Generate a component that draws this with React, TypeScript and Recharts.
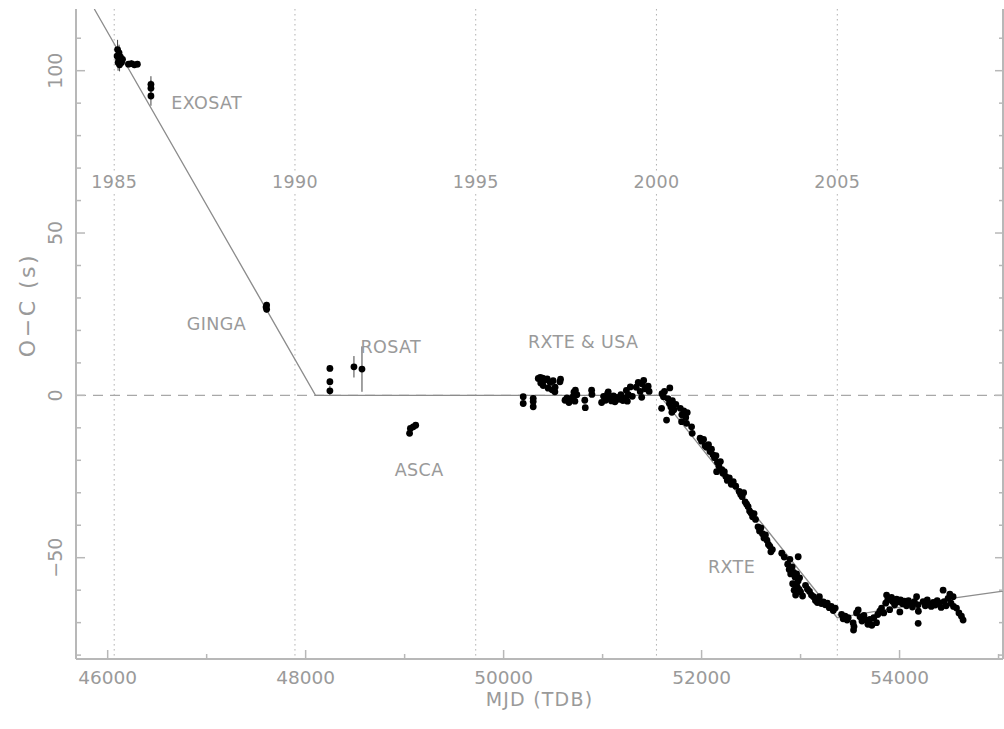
import React from 'react';
import { ComposedChart, Scatter, XAxis, YAxis, ReferenceLine, ErrorBar } from 'recharts';

// colours and fonts
const TEXT = '#9a9a9a';
const AXIS = '#b8b8b8';
const FONT = "'DejaVu Sans', sans-serif";

// axis ranges / ticks
const xDomain = [45680, 55045];
const yDomain = [-81.2, 119];
const xTicks = [46000, 47000, 48000, 49000, 50000, 51000, 52000, 53000, 54000, 55000];
const yTicks = [-80, -70, -60, -50, -40, -30, -20, -10, 0, 10, 20, 30, 40, 50, 60, 70, 80, 90, 100, 110];

// calendar years (Jan 1) marked by dotted lines
const yearMjd = [46066, 47892, 49718, 51544, 53371];
const yearText = ['1985', '1990', '1995', '2000', '2005'];
const yearLabelLevel = 65.6;

// mission labels
const missionText = ['EXOSAT', 'GINGA', 'ROSAT', 'ASCA', 'RXTE & USA', 'RXTE'];
const missionMjd = [47000, 47098, 48860, 49146, 50804, 52303];
const missionOC = [90.0, 21.9, 14.9, -23.1, 16.5, -53.0];

// piecewise linear fit
const fitMjd = [45865, 48100, 51575, 53370, 54560, 55045];
const fitOC = [119, 0, 0, -68.5, -62.4, -60.3];

// early timings: [MJD, O-C (s), error]
const exosat = [
  [46095, 104.5, 2.5], [46100, 106.5, 3], [46105, 102.5, 2.5], [46110, 103.8, 2.5], [46115, 105.5, 2.5],
  [46120, 101.8, 2], [46125, 103, 2], [46130, 104.2, 2], [46140, 102.5, 1.5], [46150, 103.5, 1.5],
  [46210, 102, 1], [46240, 102.2, 1], [46270, 101.8, 1], [46300, 102, 1],
  [46437, 95.8, 2.5], [46437, 94.6, 2.5], [46437, 92.2, 3],
];
const ginga = [[47600, 27.2, 1], [47606, 27.8, 1], [47606, 26.5, 1]];
const early = [[48245, 8.3, 1], [48245, 4.2, 1], [48245, 1.4, 1.5]];
const rosat = [[48488, 8.8, 3.3], [48569, 8.1, 7]];
const asca = [[49050, -11.7, 0.8], [49058, -10.2, 0.8], [49087, -9.7, 0.8], [49112, -9.2, 0.8]];

// RXTE & USA: [MJD, O-C (s)]
const rxteUsa = [
  [50198, -0.4], [50198, -2.5], [50299, -0.9], [50299, -1.9], [50299, -3.5],
  [50350, 5.2], [50370, 5.5], [50375, 3.8], [50395, 5.3], [50400, 3.0], [50420, 4.8], [50440, 5.1], [50450, 2.2],
  [50470, 4.0], [50490, 1.7], [50500, 4.5], [50518, 1.1], [50520, 2.5], [50569, 4.2], [50575, 5.0],
  [50620, -1.5], [50640, -0.8], [50660, -2.2], [50680, -1.2], [50700, -0.5], [50710, 1.0], [50720, -1.8],
  [50725, 1.6], [50740, 0.2], [50820, -1.5], [50825, -3.8], [50889, 1.6], [50892, 0.3],
  [50990, -2.2], [51010, -0.3], [51030, -1.5], [51050, 0.5], [51057, 1.1], [51070, -0.9], [51090, -1.7],
  [51110, -0.2], [51125, -2.0], [51145, -0.6], [51165, -1.2], [51185, 0.2], [51205, -1.6], [51225, -0.8],
  [51240, 1.5], [51250, -1.8], [51260, 0.2], [51280, 2.6], [51300, -0.3],
  [51340, 2.5], [51360, 4.0], [51380, 1.2], [51395, -0.6], [51400, 3.5], [51415, 4.6], [51430, 2.0],
  [51460, 2.8], [51470, 1.2],
];

// RXTE: [MJD, O-C (s)]
const rxte = [
  [51596, -4.0], [51600, 0.5], [51615, -0.4], [51625, 1.2], [51646, -7.6], [51660, -1.0], [51675, -2.5],
  [51679, 2.3], [51690, -3.6], [51700, -5.2], [51705, -1.6], [51720, -4.4], [51740, -2.8],
  [51785, -4.0], [51798, -8.1], [51800, -6.0], [51820, -4.8], [51840, -6.8], [51848, -8.6], [51855, -5.3],
  [51899, -9.7], [51905, -11.7],
  [51985, -13.2], [52000, -14.1], [52020, -13.6], [52035, -15.5], [52050, -16.0], [52070, -15.2],
  [52085, -17.3], [52100, -16.6], [52115, -18.3],
  [52130, -19.2], [52145, -18.6], [52152, -23.5], [52160, -20.6], [52175, -21.8], [52190, -20.4],
  [52205, -22.9], [52215, -24.0], [52230, -23.5], [52245, -25.0], [52260, -26.2], [52280, -25.4],
  [52300, -27.4], [52320, -26.6], [52345, -28.0],
  [52380, -29.6], [52395, -30.5], [52410, -31.2], [52425, -30.0], [52440, -32.8], [52455, -33.5],
  [52470, -34.3], [52485, -35.6], [52500, -36.2], [52515, -37.4], [52530, -36.4], [52545, -38.2],
  [52570, -40.5], [52585, -41.8], [52600, -40.8], [52615, -42.6], [52630, -43.9], [52645, -43.0],
  [52660, -44.6], [52675, -45.9], [52690, -46.5], [52700, -48.2], [52715, -47.5],
  [52810, -48.6], [52835, -49.8], [52870, -52.0], [52885, -53.6], [52892, -50.5], [52900, -55.0],
  [52915, -52.8], [52920, -58.0], [52930, -54.5], [52935, -60.0], [52945, -56.0], [52950, -61.5],
  [52960, -55.0], [52965, -58.9], [52976, -49.7], [52975, -57.2], [52985, -59.8], [52990, -56.2],
  [53000, -60.5], [53020, -61.8],
  [53050, -58.5], [53070, -59.7], [53090, -60.4], [53110, -61.5], [53130, -62.0], [53150, -63.2],
  [53170, -63.8], [53190, -62.0], [53210, -64.1], [53230, -63.6], [53250, -64.5], [53270, -64.0],
  [53290, -65.4], [53310, -65.0], [53330, -66.3], [53350, -65.5],
  [53414, -67.5], [53430, -68.8], [53450, -68.0], [53470, -69.2], [53481, -68.5], [53531, -70.1],
  [53535, -72.3], [53540, -71.2],
  [53565, -67.0], [53582, -66.1], [53600, -68.2], [53620, -69.5], [53640, -67.8], [53666, -69.2],
  [53680, -70.5], [53700, -69.0], [53720, -70.8], [53740, -68.5], [53767, -70.0], [53780, -67.5],
  [53800, -66.5],
  [53818, -65.5], [53840, -67.0], [53860, -64.0], [53869, -61.5], [53880, -63.0], [53900, -66.0],
  [53919, -62.2], [53930, -63.5], [53950, -64.5], [53970, -62.8], [53990, -63.6], [54003, -66.7],
  [54010, -63.0], [54030, -64.2], [54050, -63.4], [54070, -64.8], [54090, -63.2], [54110, -64.0],
  [54130, -65.2], [54150, -63.5], [54172, -62.0], [54188, -64.5], [54190, -66.5], [54188, -70.2],
  [54238, -63.5], [54260, -64.8], [54280, -63.0], [54300, -64.2], [54320, -65.0], [54340, -63.8],
  [54360, -64.6], [54380, -63.2], [54400, -64.0], [54420, -65.3], [54440, -60.0], [54450, -63.5],
  [54470, -64.8], [54490, -62.5], [54508, -61.2], [54520, -64.0], [54541, -62.0], [54545, -65.0],
  [54575, -65.5], [54600, -67.0], [54625, -68.0], [54642, -69.2],
];

const toRows = (pts: number[][]) => pts.map(([mjd, y, err]) => ({ mjd, y, err: err ?? 0 }));

const earlyRows = toRows([...exosat, ...ginga, ...early, ...rosat, ...asca]);
const rxteRows = toRows([...rxteUsa, ...rxte]);
const fitRows = fitMjd.map((mjd, i) => ({ mjd, y: fitOC[i] }));
const missionRows = missionMjd.map((mjd, i) => ({ mjd, y: missionOC[i], text: missionText[i] }));
const yearRows = yearMjd.map((mjd, i) => ({ mjd, y: yearLabelLevel, text: yearText[i] }));

const fmt = (v: number) => String(v).replace('-', '\u2212');

const BottomTick = ({ x, y, payload }: any) => {
  const major = payload.value % 2000 === 0;
  return (
    <g>
      <line x1={x} x2={x} y1={y} y2={y - (major ? 9 : 5)} stroke={AXIS} strokeWidth={1.5} />
      {major && (
        <text x={x} y={y + 18} textAnchor="middle" dominantBaseline="central" fill={TEXT} fontSize={18.5} fontFamily={FONT}>
          {payload.value}
        </text>
      )}
    </g>
  );
};

const TopTick = ({ x, y, payload }: any) => {
  const major = payload.value % 2000 === 0;
  return <line x1={x} x2={x} y1={y} y2={y + (major ? 9 : 5)} stroke={AXIS} strokeWidth={1.5} />;
};

const LeftTick = ({ x, y, payload }: any) => {
  const major = payload.value % 50 === 0;
  return (
    <g>
      <line x1={x} x2={x + (major ? 9 : 5)} y1={y} y2={y} stroke={AXIS} strokeWidth={1.5} />
      {major && (
        <text
          transform={`translate(${x - 21},${y}) rotate(-90)`}
          textAnchor="middle"
          dominantBaseline="central"
          fill={TEXT}
          fontSize={19}
          fontFamily={FONT}
        >
          {fmt(payload.value)}
        </text>
      )}
    </g>
  );
};

const RightTick = ({ x, y, payload }: any) => {
  const major = payload.value % 50 === 0;
  return <line x1={x} x2={x - (major ? 8 : 4)} y1={y} y2={y} stroke={AXIS} strokeWidth={1.5} />;
};

const Dot = (p: any) => <circle cx={p.cx} cy={p.cy} r={3.4} fill="#000" />;
const NoDot = () => <g />;
const TextMark = (p: any) => (
  <text
    x={p.cx}
    y={p.cy}
    textAnchor="middle"
    dominantBaseline="central"
    fill={TEXT}
    fontSize={17.5}
    letterSpacing={0.4}
    fontFamily={FONT}
  >
    {p.payload.text}
  </text>
);

export default function App() {
  return (
    <div style={{ position: 'absolute', left: 0, top: 0, width: 1004, height: 729, background: '#fff' }}>
      <ComposedChart width={1004} height={729} margin={{ top: 9, right: 0, bottom: 0, left: 0 }}>
        <XAxis
          dataKey="mjd"
          type="number"
          domain={xDomain}
          allowDataOverflow
          ticks={xTicks}
          interval={0}
          height={70}
          tickSize={0}
          tickMargin={0}
          tick={BottomTick}
          axisLine={{ stroke: AXIS, strokeWidth: 2 }}
          label={{
            content: ({ viewBox }: any) => (
              <text
                x={viewBox.x + viewBox.width / 2}
                y={viewBox.y + 40}
                textAnchor="middle"
                dominantBaseline="central"
                fill={TEXT}
                fontSize={19}
                letterSpacing={1.2}
                fontFamily={FONT}
              >
                MJD (TDB)
              </text>
            ),
          }}
        />
        <XAxis
          xAxisId="top"
          dataKey="mjd"
          orientation="top"
          type="number"
          domain={xDomain}
          allowDataOverflow
          ticks={xTicks}
          interval={0}
          height={0}
          tickSize={0}
          tickMargin={0}
          tick={TopTick}
          axisLine={{ stroke: AXIS, strokeWidth: 2 }}
        />
        <YAxis
          dataKey="y"
          type="number"
          domain={yDomain}
          allowDataOverflow
          ticks={yTicks}
          interval={0}
          width={76}
          tickSize={0}
          tickMargin={0}
          tick={LeftTick}
          axisLine={{ stroke: AXIS, strokeWidth: 2 }}
          label={{
            content: ({ viewBox }: any) => (
              <text
                transform={`translate(${viewBox.x + 27},${viewBox.y + viewBox.height / 2 - 29}) rotate(-90)`}
                textAnchor="middle"
                dominantBaseline="central"
                fill={TEXT}
                fontSize={22}
                letterSpacing={2.5}
                fontFamily={FONT}
              >
                O{'\u2212'}C (s)
              </text>
            ),
          }}
        />
        <YAxis
          yAxisId="right"
          dataKey="y"
          orientation="right"
          type="number"
          domain={yDomain}
          allowDataOverflow
          ticks={yTicks}
          interval={0}
          width={1}
          tickSize={0}
          tickMargin={0}
          tick={RightTick}
          axisLine={{ stroke: AXIS, strokeWidth: 2 }}
        />

        {yearMjd.map((m) => (
          <ReferenceLine
            key={`a${m}`}
            segment={[{ x: m, y: yDomain[1] }, { x: m, y: 69 }]}
            stroke="#b0b0b0"
            strokeDasharray="1.5 3.5"
          />
        ))}
        {yearMjd.map((m) => (
          <ReferenceLine
            key={`b${m}`}
            segment={[{ x: m, y: 62 }, { x: m, y: yDomain[0] }]}
            stroke="#b0b0b0"
            strokeDasharray="1.5 3.5"
          />
        ))}
        <ReferenceLine y={0} stroke="#a8a8a8" strokeWidth={1.3} strokeDasharray="10 7" />

        <Scatter data={fitRows} shape={NoDot} line={{ stroke: '#8c8c8c', strokeWidth: 1.3 }} isAnimationActive={false} />
        <Scatter data={earlyRows} shape={Dot} isAnimationActive={false}>
          <ErrorBar dataKey="err" direction="y" width={0} stroke="#444" strokeWidth={1} />
        </Scatter>
        <Scatter data={rxteRows} shape={Dot} isAnimationActive={false} />
        <Scatter data={missionRows} shape={TextMark} isAnimationActive={false} />
        <Scatter data={yearRows} shape={TextMark} isAnimationActive={false} />
      </ComposedChart>
    </div>
  );
}
